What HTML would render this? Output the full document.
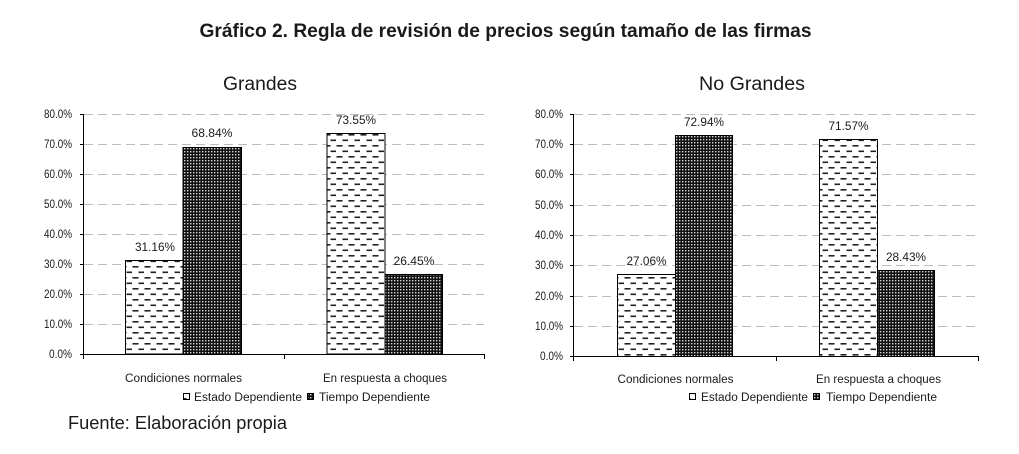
<!DOCTYPE html>
<html><head><meta charset="utf-8"><style>
html,body{margin:0;padding:0;background:#fff;}
svg{display:block;}
text{font-family:"Liberation Sans",sans-serif;fill:#1a1a1a;}
</style></head><body>
<svg width="1019" height="454" viewBox="0 0 1019 454" xmlns="http://www.w3.org/2000/svg">
<defs>
<pattern id="dsh" width="12" height="11" patternUnits="userSpaceOnUse">
<rect width="12" height="11" fill="#fff"/>
<rect x="0.5" y="2" width="6" height="1.6" fill="#222"/>
<rect x="6.5" y="7.5" width="6" height="1.6" fill="#222"/>
</pattern>
<pattern id="dot" width="3" height="3" patternUnits="userSpaceOnUse">
<rect width="3" height="3" fill="#111"/>
<rect x="1" y="1" width="1.4" height="1.4" fill="#d8d8d8"/>
</pattern>
</defs>

<text x="505.5" y="37" font-size="19" font-weight="bold" text-anchor="middle" textLength="612" lengthAdjust="spacingAndGlyphs">Gráfico 2. Regla de revisión de precios según tamaño de las firmas</text>
<text x="223" y="90" font-size="19" textLength="74" lengthAdjust="spacingAndGlyphs">Grandes</text>
<text x="699" y="90" font-size="19" textLength="106" lengthAdjust="spacingAndGlyphs">No Grandes</text>

<!-- LEFT CHART -->
<g stroke="#bcbcbc" stroke-width="1" stroke-dasharray="9,5">
<line x1="84" y1="114.5" x2="484" y2="114.5"/>
<line x1="84" y1="144.5" x2="484" y2="144.5"/>
<line x1="84" y1="174.5" x2="484" y2="174.5"/>
<line x1="84" y1="204.5" x2="484" y2="204.5"/>
<line x1="84" y1="234.5" x2="484" y2="234.5"/>
<line x1="84" y1="264.5" x2="484" y2="264.5"/>
<line x1="84" y1="294.5" x2="484" y2="294.5"/>
<line x1="84" y1="324.5" x2="484" y2="324.5"/>
</g>
<g font-size="11.5" text-anchor="end">
<text x="72" y="118" textLength="28" lengthAdjust="spacingAndGlyphs">80.0%</text>
<text x="72" y="148" textLength="28" lengthAdjust="spacingAndGlyphs">70.0%</text>
<text x="72" y="178" textLength="28" lengthAdjust="spacingAndGlyphs">60.0%</text>
<text x="72" y="208" textLength="28" lengthAdjust="spacingAndGlyphs">50.0%</text>
<text x="72" y="238" textLength="28" lengthAdjust="spacingAndGlyphs">40.0%</text>
<text x="72" y="268" textLength="28" lengthAdjust="spacingAndGlyphs">30.0%</text>
<text x="72" y="298" textLength="28" lengthAdjust="spacingAndGlyphs">20.0%</text>
<text x="72" y="328" textLength="28" lengthAdjust="spacingAndGlyphs">10.0%</text>
<text x="72" y="358" textLength="23" lengthAdjust="spacingAndGlyphs">0.0%</text>
</g>
<g stroke="#000" stroke-width="1">
<rect x="125.5" y="260.5" width="57.5" height="93.5" fill="url(#dsh)"/>
<rect x="183" y="147.5" width="58.5" height="206.5" fill="url(#dot)"/>
<rect x="327" y="133.5" width="58" height="220.5" fill="url(#dsh)"/>
<rect x="385" y="274.5" width="57.5" height="79.5" fill="url(#dot)"/>
<line x1="83.5" y1="114" x2="83.5" y2="354.5"/>
<line x1="83" y1="354.5" x2="484.5" y2="354.5"/>
<line x1="80" y1="114.5" x2="83.5" y2="114.5"/>
<line x1="80" y1="144.5" x2="83.5" y2="144.5"/>
<line x1="80" y1="174.5" x2="83.5" y2="174.5"/>
<line x1="80" y1="204.5" x2="83.5" y2="204.5"/>
<line x1="80" y1="234.5" x2="83.5" y2="234.5"/>
<line x1="80" y1="264.5" x2="83.5" y2="264.5"/>
<line x1="80" y1="294.5" x2="83.5" y2="294.5"/>
<line x1="80" y1="324.5" x2="83.5" y2="324.5"/>
<line x1="80" y1="354.5" x2="83.5" y2="354.5"/>
<line x1="83.5" y1="354" x2="83.5" y2="359"/>
<line x1="284.5" y1="354" x2="284.5" y2="359"/>
<line x1="484.5" y1="354" x2="484.5" y2="359"/>
</g>
<g font-size="11.5" text-anchor="middle">
<text x="155" y="251" textLength="40" lengthAdjust="spacingAndGlyphs">31.16%</text>
<text x="212" y="137" textLength="41" lengthAdjust="spacingAndGlyphs">68.84%</text>
<text x="356" y="124" textLength="40" lengthAdjust="spacingAndGlyphs">73.55%</text>
<text x="414" y="265" textLength="41" lengthAdjust="spacingAndGlyphs">26.45%</text>
</g>
<g font-size="11.5" text-anchor="middle">
<text x="183.5" y="382" textLength="117" lengthAdjust="spacingAndGlyphs">Condiciones normales</text>
<text x="385" y="382" textLength="124" lengthAdjust="spacingAndGlyphs">En respuesta a choques</text>
</g>
<rect x="183.5" y="393.5" width="6" height="6" fill="url(#dsh)" stroke="#000" stroke-width="1"/>
<text x="194" y="401" font-size="11.5" textLength="108" lengthAdjust="spacingAndGlyphs">Estado Dependiente</text>
<rect x="307.5" y="393.5" width="6" height="6" fill="url(#dot)" stroke="#000" stroke-width="1"/>
<text x="319" y="401" font-size="11.5" textLength="111" lengthAdjust="spacingAndGlyphs">Tiempo Dependiente</text>

<!-- RIGHT CHART -->
<g stroke="#bcbcbc" stroke-width="1" stroke-dasharray="9,5">
<line x1="574" y1="114.5" x2="978" y2="114.5"/>
<line x1="574" y1="144.5" x2="978" y2="144.5"/>
<line x1="574" y1="174.5" x2="978" y2="174.5"/>
<line x1="574" y1="205.5" x2="978" y2="205.5"/>
<line x1="574" y1="235.5" x2="978" y2="235.5"/>
<line x1="574" y1="265.5" x2="978" y2="265.5"/>
<line x1="574" y1="296.5" x2="978" y2="296.5"/>
<line x1="574" y1="326.5" x2="978" y2="326.5"/>
</g>
<g font-size="11.5" text-anchor="end">
<text x="563" y="118" textLength="28" lengthAdjust="spacingAndGlyphs">80.0%</text>
<text x="563" y="148" textLength="28" lengthAdjust="spacingAndGlyphs">70.0%</text>
<text x="563" y="178" textLength="28" lengthAdjust="spacingAndGlyphs">60.0%</text>
<text x="563" y="209" textLength="28" lengthAdjust="spacingAndGlyphs">50.0%</text>
<text x="563" y="239" textLength="28" lengthAdjust="spacingAndGlyphs">40.0%</text>
<text x="563" y="269" textLength="28" lengthAdjust="spacingAndGlyphs">30.0%</text>
<text x="563" y="300" textLength="28" lengthAdjust="spacingAndGlyphs">20.0%</text>
<text x="563" y="330" textLength="28" lengthAdjust="spacingAndGlyphs">10.0%</text>
<text x="563" y="360" textLength="23" lengthAdjust="spacingAndGlyphs">0.0%</text>
</g>
<g stroke="#000" stroke-width="1">
<rect x="617.5" y="274.5" width="58" height="82" fill="url(#dsh)"/>
<rect x="675.5" y="135.5" width="57" height="221" fill="url(#dot)"/>
<rect x="819.5" y="139.5" width="58" height="217" fill="url(#dsh)"/>
<rect x="877.5" y="270.5" width="57" height="86" fill="url(#dot)"/>
<line x1="573.5" y1="114" x2="573.5" y2="356.5"/>
<line x1="573" y1="356.5" x2="978.5" y2="356.5"/>
<line x1="570" y1="114.5" x2="573.5" y2="114.5"/>
<line x1="570" y1="144.5" x2="573.5" y2="144.5"/>
<line x1="570" y1="174.5" x2="573.5" y2="174.5"/>
<line x1="570" y1="205.5" x2="573.5" y2="205.5"/>
<line x1="570" y1="235.5" x2="573.5" y2="235.5"/>
<line x1="570" y1="265.5" x2="573.5" y2="265.5"/>
<line x1="570" y1="296.5" x2="573.5" y2="296.5"/>
<line x1="570" y1="326.5" x2="573.5" y2="326.5"/>
<line x1="570" y1="356.5" x2="573.5" y2="356.5"/>
<line x1="573.5" y1="356" x2="573.5" y2="361"/>
<line x1="776.5" y1="356" x2="776.5" y2="361"/>
<line x1="978.5" y1="356" x2="978.5" y2="361"/>
</g>
<g font-size="11.5" text-anchor="middle">
<text x="646.5" y="265" textLength="40" lengthAdjust="spacingAndGlyphs">27.06%</text>
<text x="704" y="126" textLength="40" lengthAdjust="spacingAndGlyphs">72.94%</text>
<text x="848.5" y="130" textLength="40" lengthAdjust="spacingAndGlyphs">71.57%</text>
<text x="906" y="261" textLength="40" lengthAdjust="spacingAndGlyphs">28.43%</text>
</g>
<g font-size="11.5" text-anchor="middle">
<text x="675.5" y="383" textLength="116" lengthAdjust="spacingAndGlyphs">Condiciones normales</text>
<text x="878.5" y="383" textLength="125" lengthAdjust="spacingAndGlyphs">En respuesta a choques</text>
</g>
<rect x="689.5" y="393.5" width="6" height="6" fill="url(#dsh)" stroke="#000" stroke-width="1"/>
<text x="701" y="401" font-size="11.5" textLength="107" lengthAdjust="spacingAndGlyphs">Estado Dependiente</text>
<rect x="813.5" y="393.5" width="6" height="6" fill="url(#dot)" stroke="#000" stroke-width="1"/>
<text x="826" y="401" font-size="11.5" textLength="111" lengthAdjust="spacingAndGlyphs">Tiempo Dependiente</text>

<text x="68" y="429" font-size="18" textLength="219" lengthAdjust="spacingAndGlyphs" fill="#222">Fuente: Elaboración propia</text>
</svg>
</body></html>
